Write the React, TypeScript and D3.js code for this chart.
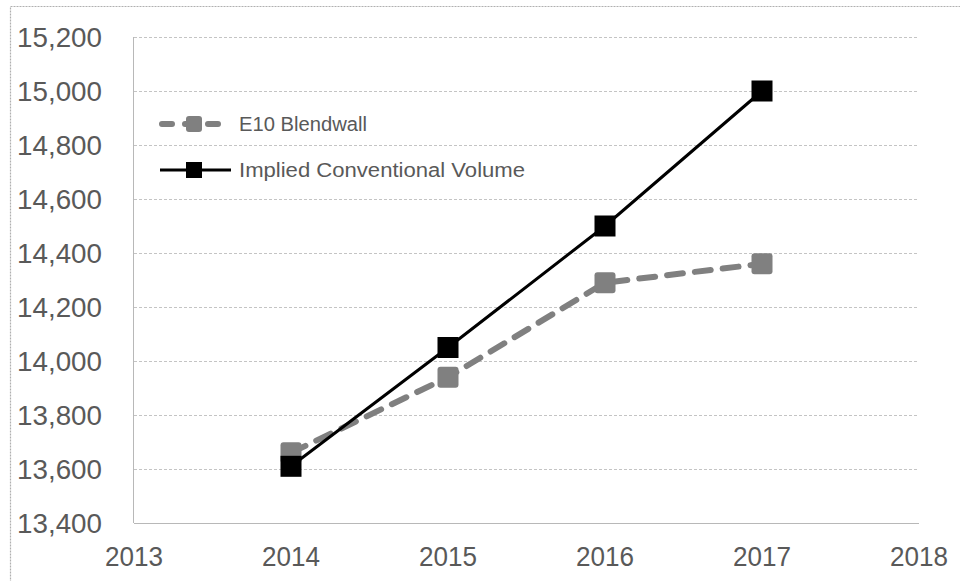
import React from "react";
import * as d3 from "d3";

const years = [2014, 2015, 2016, 2017];
const blendwall = [13660, 13940, 14290, 14360];
const implied = [13610, 14050, 14500, 15000];
const yTicks = [13400, 13600, 13800, 14000, 14200, 14400, 14600, 14800, 15000, 15200];
const xTicks = [2013, 2014, 2015, 2016, 2017, 2018];
const seriesNames = ["E10 Blendwall", "Implied Conventional Volume"];

const W = 960;
const H = 581;
const FONT = "'Liberation Sans', Arial, sans-serif";

export default function App() {
  const x = d3.scaleLinear().domain([2013, 2018]).range([134, 919]);
  const y = d3.scaleLinear().domain([13400, 15200]).range([523, 37]);
  const line = d3
    .line<[number, number]>()
    .x((d) => x(d[0]))
    .y((d) => y(d[1]));
  const bwData = years.map((yr, i) => [yr, blendwall[i]] as [number, number]);
  const imData = years.map((yr, i) => [yr, implied[i]] as [number, number]);
  const fmt = d3.format(",");
  const ms = 21;

  return (
    <svg
      width={W}
      height={H}
      style={{ position: "absolute", left: 0, top: 0, background: "#fff" }}
    >
      <rect x={0} y={0} width={W} height={H} fill="#fff" />
      <rect
        x={10.5}
        y={6.5}
        width={W + 20}
        height={H + 20}
        fill="none"
        stroke="#b0b0b0"
        strokeWidth={1.2}
        strokeDasharray="2,1"
      />
      {yTicks.map((t) => (
        <line
          key={t}
          x1={x(2013)}
          x2={x(2018)}
          y1={Math.round(y(t)) + 0.5}
          y2={Math.round(y(t)) + 0.5}
          stroke={t === 13400 ? "#b8b8b8" : "#c4c4c4"}
          strokeWidth={1}
          strokeDasharray={t === 13400 ? undefined : "3,2"}
        />
      ))}
      <line
        x1={x(2013) - 0.5}
        x2={x(2013) - 0.5}
        y1={y(15200)}
        y2={y(13400)}
        stroke="#b8b8b8"
        strokeWidth={1}
      />
      {yTicks.map((t) => (
        <text
          key={t}
          x={102}
          y={y(t) + 10}
          textAnchor="end"
          fontFamily={FONT}
          fontSize={28}
          fill="#595959"
          textLength={85}
          lengthAdjust="spacingAndGlyphs"
        >
          {fmt(t)}
        </text>
      ))}
      {xTicks.map((t) => (
        <text
          key={t}
          x={x(t)}
          y={566}
          textAnchor="middle"
          fontFamily={FONT}
          fontSize={27}
          fill="#595959"
          textLength={58}
          lengthAdjust="spacingAndGlyphs"
        >
          {t}
        </text>
      ))}
      <path
        d={line(bwData) || ""}
        fill="none"
        stroke="#808080"
        strokeWidth={6}
        strokeDasharray="16,12"
        strokeLinecap="round"
      />
      {bwData.map((d, i) => (
        <rect
          key={"b" + i}
          x={x(d[0]) - ms / 2}
          y={y(d[1]) - ms / 2}
          width={ms}
          height={ms}
          rx={3}
          fill="#808080"
        />
      ))}
      <path d={line(imData) || ""} fill="none" stroke="#000" strokeWidth={3} />
      {imData.map((d, i) => (
        <rect
          key={"i" + i}
          x={x(d[0]) - ms / 2}
          y={y(d[1]) - ms / 2}
          width={ms}
          height={ms}
          fill="#000"
        />
      ))}
      <g>
        <line
          x1={162}
          x2={227}
          y1={124}
          y2={124}
          stroke="#808080"
          strokeWidth={6}
          strokeDasharray="10,13"
          strokeLinecap="round"
        />
        <rect x={186} y={116} width={16} height={16} rx={3} fill="#808080" />
        <text
          x={239}
          y={131}
          fontFamily={FONT}
          fontSize={20}
          fill="#595959"
          textLength={128}
          lengthAdjust="spacingAndGlyphs"
        >
          {seriesNames[0]}
        </text>
        <line x1={160} x2={231} y1={170} y2={170} stroke="#000" strokeWidth={3} />
        <rect x={186} y={162} width={16} height={16} fill="#000" />
        <text
          x={239}
          y={177}
          fontFamily={FONT}
          fontSize={20}
          fill="#595959"
          textLength={286}
          lengthAdjust="spacingAndGlyphs"
        >
          {seriesNames[1]}
        </text>
      </g>
    </svg>
  );
}
